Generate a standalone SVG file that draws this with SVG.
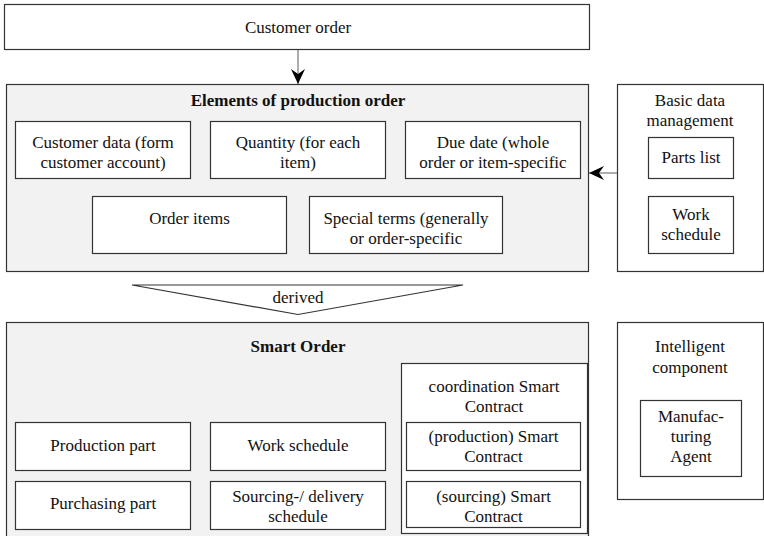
<svg xmlns="http://www.w3.org/2000/svg" width="764" height="536" viewBox="0 0 764 536" font-family="'Liberation Serif', 'DejaVu Serif', serif">
<defs>
<style>
text{font-family:'Liberation Serif','DejaVu Serif',serif;font-size:17px;fill:#111;text-anchor:middle}
.b{font-weight:bold}
.outer{fill:#f2f2f2;stroke:#333;stroke-width:1.2}
.box{fill:#fff;stroke:#333;stroke-width:1.2}
.line{fill:none;stroke:#333;stroke-width:1.2}
.conn{fill:none;stroke:#808080;stroke-width:1.3}
</style>
<marker id="ah" viewBox="0 0 15 14" refX="15" refY="7" markerWidth="15" markerHeight="14" markerUnits="userSpaceOnUse" orient="auto">
<path d="M0,0 L15,7 L0,14 L5,7 Z" fill="#000"/>
</marker>
</defs>
<rect width="764" height="536" fill="#fff"/>
<g id="customer-order">
<rect class="box" x="4.5" y="4.5" width="585" height="45"/>
<text x="298" y="33">Customer order</text>
</g>
<g id="elements">
<rect class="outer" x="6.5" y="84.5" width="582" height="187"/>
<text class="b" x="298" y="106">Elements of production order</text>
</g>
<g id="customer-data">
<rect class="box" x="15.5" y="121.5" width="175" height="57"/>
<text x="103" y="148">Customer data (form</text>
<text x="103" y="168">customer account)</text>
</g>
<g id="quantity">
<rect class="box" x="210.5" y="121.5" width="175" height="57"/>
<text x="298" y="148">Quantity (for each</text>
<text x="298" y="168">item)</text>
</g>
<g id="due-date">
<rect class="box" x="405.5" y="121.5" width="175" height="57"/>
<text x="493" y="148">Due date (whole</text>
<text x="493" y="168">order or item-specific</text>
</g>
<g id="order-items">
<rect class="box" x="92.5" y="196.5" width="194" height="57"/>
<text x="189.5" y="224">Order items</text>
</g>
<g id="special-terms">
<rect class="box" x="309.5" y="196.5" width="193" height="57"/>
<text x="406" y="224">Special terms (generally</text>
<text x="406" y="244">or order-specific</text>
</g>
<g id="basic-data">
<rect class="box" x="617.5" y="84.5" width="146" height="187"/>
<text x="690" y="106">Basic data</text>
<text x="690" y="126">management</text>
</g>
<g id="parts-list">
<rect class="box" x="648.5" y="137.5" width="85" height="41"/>
<text x="691" y="163">Parts list</text>
</g>
<g id="work-schedule-basic">
<rect class="box" x="648.5" y="196.5" width="85" height="57"/>
<text x="691" y="220">Work</text>
<text x="691" y="240">schedule</text>
</g>
<g id="derived">
<polygon class="line" points="132,285 463,285 298,314.5" fill="#fff"/>
<text x="298" y="303">derived</text>
</g>
<g id="smart-order">
<rect class="outer" x="6.5" y="322.5" width="582" height="220"/>
<text class="b" x="298" y="352">Smart Order</text>
</g>
<g id="production-part">
<rect class="box" x="15.5" y="422.5" width="175" height="48"/>
<text x="103" y="451">Production part</text>
</g>
<g id="work-schedule">
<rect class="box" x="210.5" y="422.5" width="175" height="48"/>
<text x="298" y="451">Work schedule</text>
</g>
<g id="purchasing-part">
<rect class="box" x="15.5" y="481.5" width="175" height="48"/>
<text x="103" y="509">Purchasing part</text>
</g>
<g id="sourcing-schedule">
<rect class="box" x="210.5" y="481.5" width="175" height="48"/>
<text x="298" y="502">Sourcing-/ delivery</text>
<text x="298" y="522">schedule</text>
</g>
<g id="coordination-contract">
<rect class="box" x="401.5" y="363.5" width="186" height="170"/>
<text x="494" y="392">coordination Smart</text>
<text x="494" y="412">Contract</text>
</g>
<g id="production-contract">
<rect class="box" x="406.5" y="422.5" width="174" height="48"/>
<text x="493.5" y="442">(production) Smart</text>
<text x="493.5" y="462">Contract</text>
</g>
<g id="sourcing-contract">
<rect class="box" x="406.5" y="481.5" width="174" height="46"/>
<text x="493.5" y="502">(sourcing) Smart</text>
<text x="493.5" y="522">Contract</text>
</g>
<g id="intelligent-component">
<rect class="box" x="617.5" y="322.5" width="146" height="177"/>
<text x="690" y="352">Intelligent</text>
<text x="690" y="373">component</text>
</g>
<g id="manufacturing-agent">
<rect class="box" x="640.5" y="400.5" width="101" height="76"/>
<text x="691" y="422">Manufac-</text>
<text x="691" y="442">turing</text>
<text x="691" y="462">Agent</text>
</g>
<g id="connectors">
<line class="conn" x1="298" y1="50" x2="298" y2="84" marker-end="url(#ah)"/>
<line class="conn" x1="617" y1="173" x2="589" y2="173" marker-end="url(#ah)"/>
</g>
</svg>
